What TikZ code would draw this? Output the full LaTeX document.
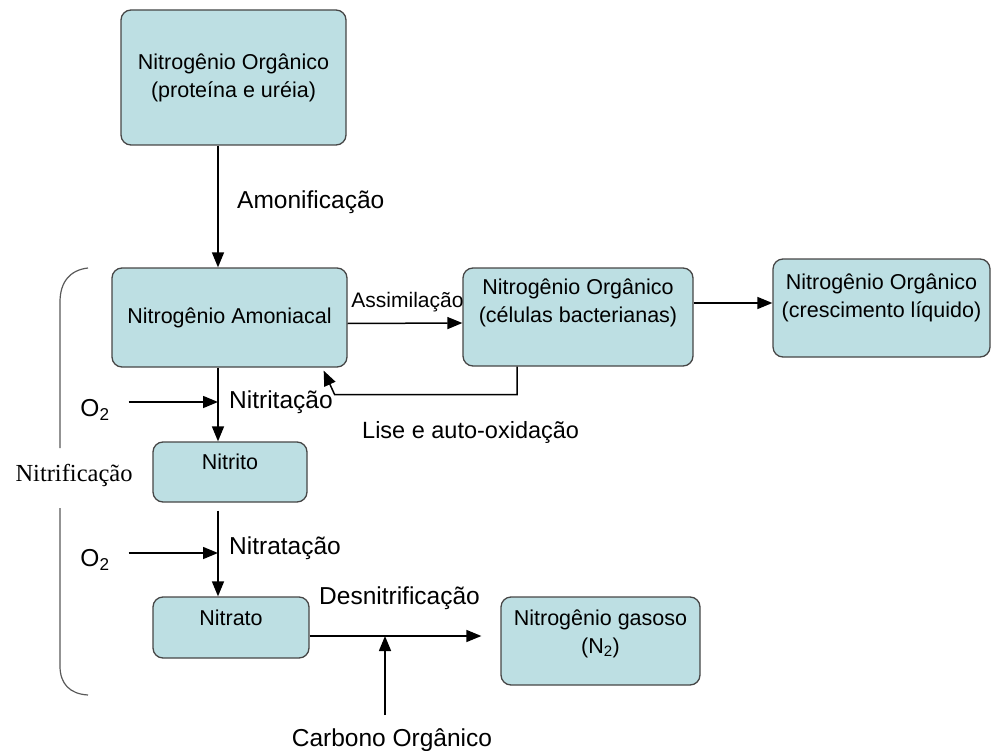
\documentclass[tikz,border=0pt]{standalone}
\usepackage{fontspec}
\setmainfont{Liberation Sans}
\newfontfamily\timesfont{Liberation Serif}
\usetikzlibrary{arrows.meta}
\definecolor{boxfill}{RGB}{189,223,227}
\definecolor{boxline}{RGB}{70,70,70}

\begin{document}
\begin{tikzpicture}[
  x=1pt, y=-1pt,
  box/.style={draw=boxline, line width=1.3pt, fill=boxfill, rounded corners=10pt, inner sep=0pt},
  boxtext/.style={align=center, font=\fontsize{21.5}{28}\selectfont, inner sep=0pt},
  flow/.style={line width=1.5pt, -{Triangle[length=15pt,width=12pt]}},
  lbl/.style={font=\fontsize{24.5}{29}\selectfont, inner sep=0pt},
  bracket/.style={line width=1.2pt, black!65}
]
  \useasboundingbox (0,0) rectangle (992,751);

  % Boxes
  \node[box, boxtext, minimum width=225pt, minimum height=135pt] (proteina) at (233.5,77.5)
    {Nitrogênio Orgânico\\(proteína e uréia)};
  \node[box, boxtext, minimum width=235pt, minimum height=99pt] (amoniacal) at (229.5,317.5)
    {Nitrogênio Amoniacal};
  \node[box, minimum width=230pt, minimum height=98pt] (celulas) at (578,317) {};
  \node[boxtext] (celulasT) at ([yshift=14.5pt]celulas.center)
    {Nitrogênio Orgânico\\(células bacterianas)};
  \node[box, minimum width=217pt, minimum height=98pt] (crescimento) at (881.5,308) {};
  \node[boxtext] (crescimentoT) at ([yshift=10.5pt]crescimento.center)
    {Nitrogênio Orgânico\\(crescimento líquido)};
  \node[box, minimum width=154pt, minimum height=60pt] (nitrito) at (230,472) {};
  \node[boxtext] (nitritoT) at ([yshift=10pt]nitrito.center) {Nitrito};
  \node[box, minimum width=156pt, minimum height=61pt] (nitrato) at (231,627.5) {};
  \node[boxtext] (nitratoT) at ([yshift=9.5pt]nitrato.center) {Nitrato};
  \node[box, minimum width=199pt, minimum height=88pt] (gasoso) at (600.5,641) {};
  \node[boxtext] (gasosoT) at ([yshift=7pt]gasoso.center)
    {Nitrogênio gasoso\\(N\textsubscript{2})};

  % Junctions on the main line
  \coordinate (trunk) at (218,402);
  \coordinate (trunk2) at (218,553);
  \coordinate (join) at (385,636);

  % Side inputs
  \node[lbl] (o2a) at (95,410) {O\textsubscript{2}};
  \node[lbl] (o2b) at (95,560) {O\textsubscript{2}};
  \node[lbl, anchor=north] (carbono) at (392,728) {Carbono Orgânico};

  % Labels
  \node[lbl, anchor=west] (amonificacao) at (237,202) {Amonificação};
  \node[boxtext, font=\fontsize{21}{25}\selectfont] (assimilacao) at (407.5,302) {Assimilação};
  \node[lbl, font=\fontsize{23.5}{28}\selectfont, anchor=west] (lise) at (362,432) {Lise e auto-oxidação};
  \node[lbl, anchor=west] (nitritacao) at (229,402) {Nitritação};
  \node[lbl, anchor=west] (nitratacao) at (229,548) {Nitratação};
  \node[lbl, anchor=west] (desnitrificacao) at (319,598) {Desnitrificação};
  \node[font=\timesfont\fontsize{24.5}{29}\selectfont, inner sep=0pt] (nitrificacao) at (74,475) {Nitrificação};

  % Bracket round the nitrification steps
  \draw[bracket] (88,268) .. controls (70,270) and (60,282) .. (60,302) -- (60,448);
  \draw[bracket] (60,508) -- (60,666) .. controls (60,684) and (70,694) .. (88,695);

  % Main line
  \draw[flow] (proteina.south -| trunk) -- (amoniacal.north -| trunk);
  \draw[flow] (amoniacal.south -| trunk) -- (nitrito.north -| trunk);
  \draw[flow, shorten <=8pt] (nitrito.south -| trunk) -- (nitrato.north -| trunk);
  \draw[flow, shorten >=19pt] ([yshift=-8.5pt]nitrato.east) -- ([yshift=-8.5pt]nitrato.east -| gasoso.west);

  % Bacterial cells
  \draw[flow] ([yshift=-6pt]amoniacal.east) -- ([yshift=-6pt]celulas.west);
  \draw[flow] ([yshift=14pt]celulas.east) -- ([yshift=14pt]celulas.east -| crescimento.west);
  \draw[flow] ([xshift=-61pt]celulas.south) |- ([xshift=-13pt,yshift=-27pt]amoniacal.south east)
    -- ([xshift=-24pt,yshift=-3pt]amoniacal.south east);

  % Oxygen and carbon inputs
  \draw[flow] ([xshift=19pt]o2a.east |- trunk) -- (trunk);
  \draw[flow] ([xshift=19pt]o2b.east |- trunk2) -- (trunk2);
  \draw[flow, shorten <=13pt] (carbono.north -| join) -- (join);

\end{tikzpicture}
\end{document}
